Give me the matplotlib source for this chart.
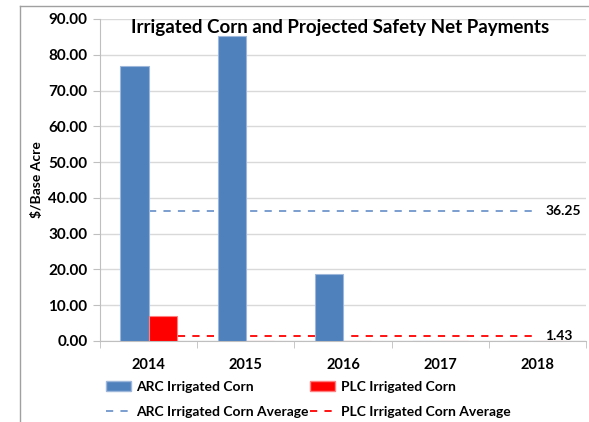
import matplotlib
matplotlib.use("Agg")
import matplotlib.pyplot as plt
import numpy as np
from matplotlib.lines import Line2D
from matplotlib.patches import Patch

years = ["2014", "2015", "2016", "2017", "2018"]
arc_values = [77.0, 85.3, 18.6, 0.0, 0.0]
plc_values = [7.0, 0.0, 0.0, 0.0, 0.0]
arc_average = 36.25
plc_average = 1.43
yticks = [0, 10, 20, 30, 40, 50, 60, 70, 80, 90]

plt.rcParams['font.family'] = ['Lato', 'DejaVu Sans']
plt.rcParams['font.weight'] = 'bold'

W, H = 589, 422
fig = plt.figure(figsize=(W / 100, H / 100), dpi=100)
ax = fig.add_axes([100 / W, 1 - 341 / H, 486 / W, (341 - 19) / H])

blue = '#4F81BD'
red = '#FF0000'
x = np.arange(len(years))
bw = 0.29

ax.set_axisbelow(True)
ax.yaxis.grid(True, color='#D9D9D9', linewidth=1.0)
ax.plot([0, 4], [arc_average, arc_average], color='#6F96CC', linestyle=(0, (4, 4)), linewidth=1.3, zorder=2)
ax.plot([0, 4], [plc_average, plc_average], color=red, linestyle=(0, (4, 4)), linewidth=1.3, zorder=2)
ax.bar(x - bw / 2, arc_values, width=bw, color=blue, edgecolor='#9DB7DB', linewidth=0.8, zorder=3)
ax.bar(x + bw / 2, plc_values, width=bw, color=red, edgecolor='#FF8080', linewidth=0.8, zorder=3)

ax.text(4.08, arc_average, f"{arc_average:.2f}", va='center', ha='left', fontsize=10, fontweight='bold')
ax.text(4.08, plc_average, f"{plc_average:.2f}", va='center', ha='left', fontsize=10, fontweight='bold')

ax.set_xlim(-0.5, 4.5)
ax.set_ylim(0, 90)
ax.set_yticks(yticks)
ax.set_yticklabels([f"{v:.2f}" for v in yticks], fontsize=11, fontweight='bold')
ax.set_xticks(x)
ax.set_xticklabels(years, fontsize=10.5, fontweight='bold')
ax.tick_params(axis='x', length=0, pad=12)
ax.set_xticks(np.arange(-0.5, 5.0, 1.0), minor=True)
ax.tick_params(axis='x', which='minor', length=5, color='#BFBFBF')
ax.tick_params(axis='y', length=5, color='#BFBFBF', pad=4)
for s in ['top', 'right']:
    ax.spines[s].set_visible(False)
ax.spines['left'].set_color('#BFBFBF')
ax.spines['bottom'].set_color('#BFBFBF')
ax.set_ylabel("$/Base Acre", fontsize=10, fontweight='bold', labelpad=4)

fig.text(340 / W, 1 - 27 / H, "Irrigated Corn and Projected Safety Net Payments",
         ha='center', va='center', fontsize=13.5, fontweight='bold')

handles = [Patch(facecolor=blue, edgecolor='#9DB7DB'),
           Line2D([], [], color='#6F96CC', linestyle=(0, (4, 4)), linewidth=1.3),
           Patch(facecolor=red, edgecolor='#FF8080'),
           Line2D([], [], color=red, linestyle=(0, (4, 4)), linewidth=1.3)]
labels = ["ARC Irrigated Corn", "ARC Irrigated Corn Average",
          "PLC Irrigated Corn", "PLC Irrigated Corn Average"]
fig.legend(handles, labels, ncol=2, loc='upper left', bbox_to_anchor=(106 / W, 1 - 381 / H),
           frameon=False, fontsize=10, handlelength=1.8, handletextpad=0.4,
           columnspacing=0.1, labelspacing=0.9, borderpad=0, borderaxespad=0)

fig.add_artist(Line2D([20 / W, 1], [1 - 6 / H, 1 - 6 / H], color='#A0A0A0', linewidth=1))
fig.add_artist(Line2D([20 / W, 20 / W], [0, 1 - 6 / H], color='#A0A0A0', linewidth=1))

fig.savefig("out.png", dpi=100)
